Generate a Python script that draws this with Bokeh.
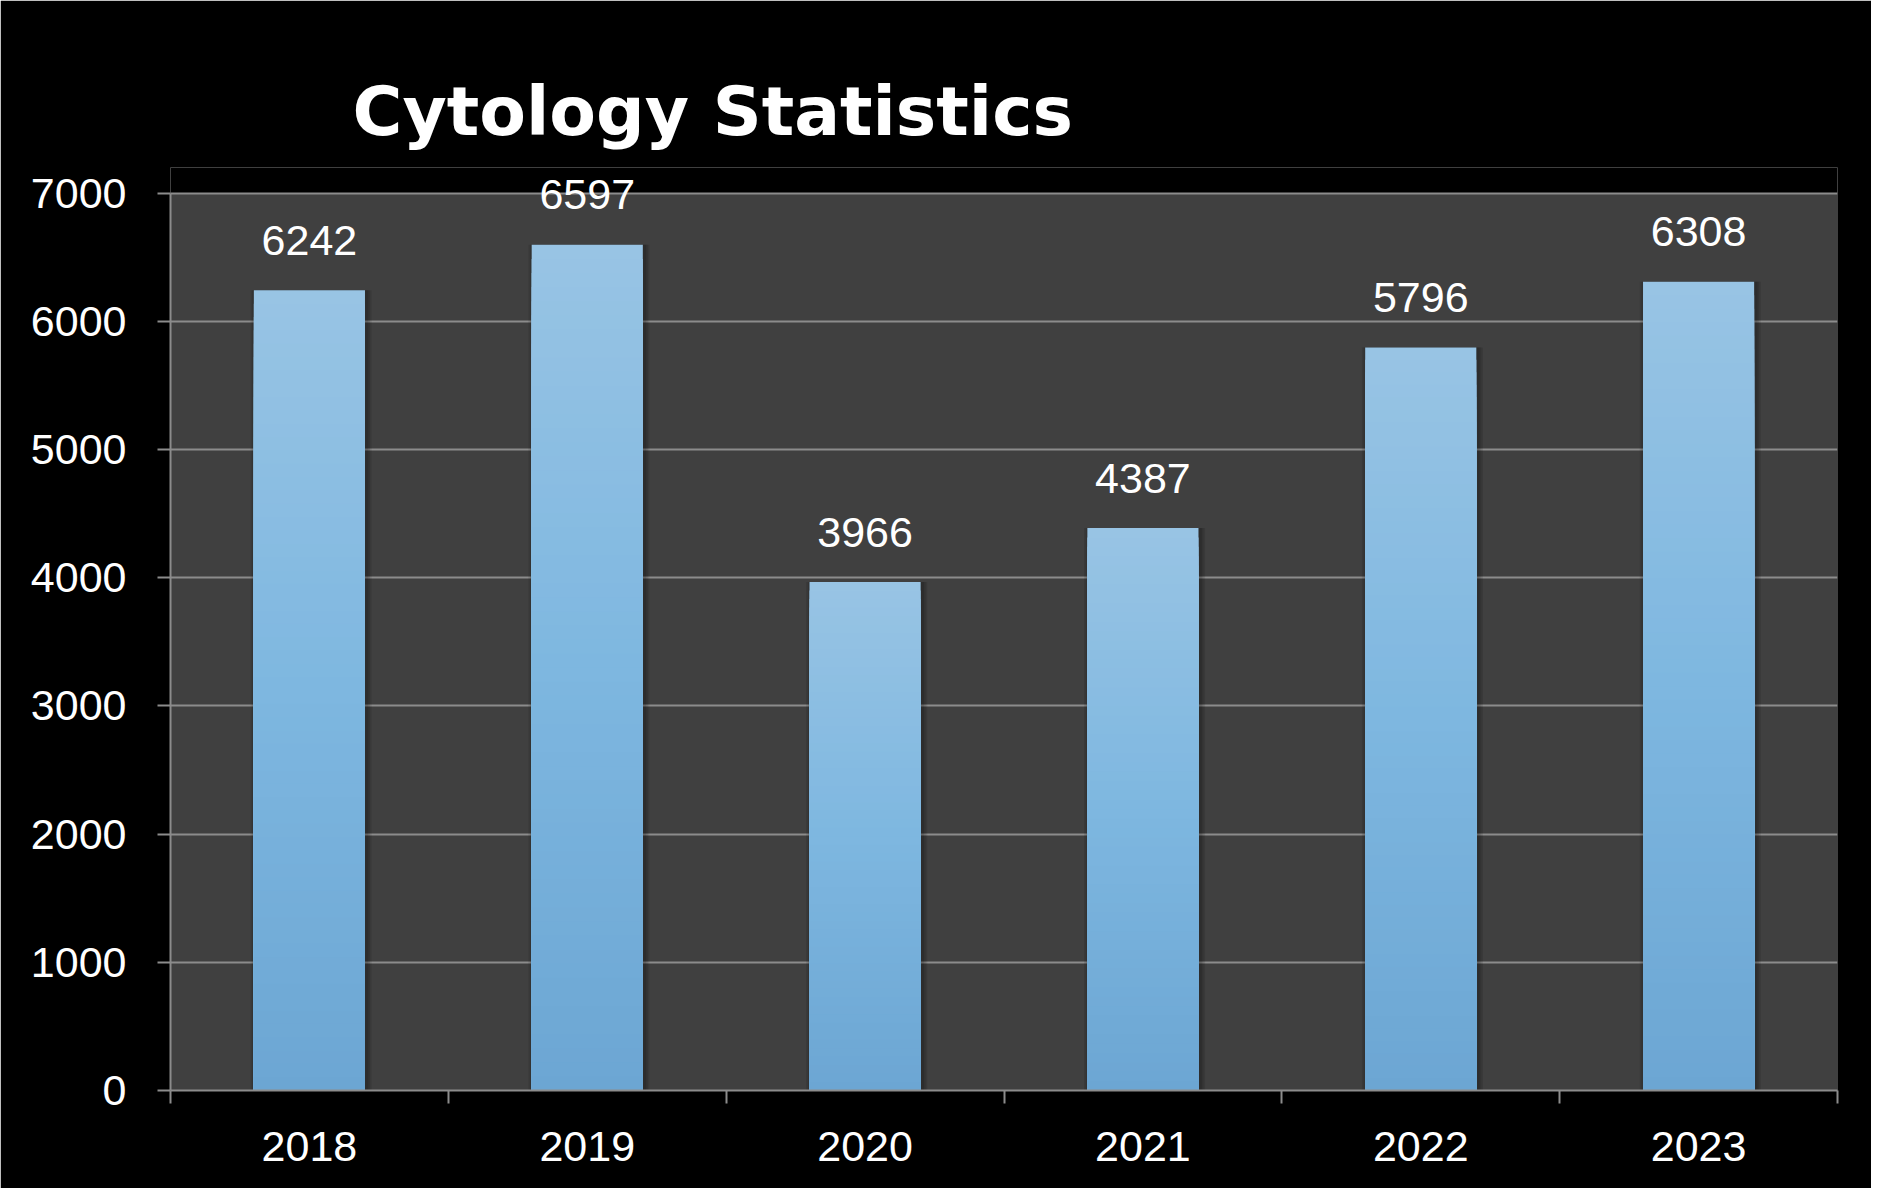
from bokeh.plotting import figure
from bokeh.models import FixedTicker, Range1d
from bokeh.core.properties import value
from bokeh.embed import file_html
from bokeh.resources import INLINE

# ---- data ----
years = ["2018", "2019", "2020", "2021", "2022", "2023"]
counts = [6242, 6597, 3966, 4387, 5796, 6308]
y_ticks = [0, 1000, 2000, 3000, 4000, 5000, 6000, 7000]

# ---- style ----
FONT = "Liberation Sans"
GRID = "#8c8c8c"
BAR_W = 0.40
TOP_PAD = 200          # room above the plot area so the top label is not clipped
grad_stops = [(0.0, (108, 166, 211)), (0.5, (126, 183, 224)), (1.0, (152, 196, 228))]
N_SLICES = 60


def grad_color(t):
    for (t0, c0), (t1, c1) in zip(grad_stops[:-1], grad_stops[1:]):
        if t <= t1:
            f = (t - t0) / (t1 - t0)
            r, g, b = (round(a + (b_ - a) * f) for a, b_ in zip(c0, c1))
            return "#%02x%02x%02x" % (r, g, b)
    r, g, b = grad_stops[-1][1]
    return "#%02x%02x%02x" % (r, g, b)


xs = [i + 0.5 for i in range(len(years))]
y_top = y_ticks[-1]

p = figure(
    frame_width=1667, frame_height=923,
    x_range=Range1d(0, len(years)), y_range=Range1d(y_ticks[0], y_top + TOP_PAD),
    output_backend="svg", toolbar_location=None,
    min_border_left=170, min_border_right=34, min_border_top=167, min_border_bottom=98,
    title="Cytology Statistics",
)
p.background_fill_color = "#000000"
p.border_fill_color = "#000000"
p.outline_line_color = None

# dark plot area, drawn beneath the grid
area = p.quad(left=0, right=len(years), bottom=y_ticks[0], top=y_top,
              fill_color="#404040", line_color=None)
area.level = "image"

p.title.text_font = "DejaVu Sans"
p.title.text_font_style = "bold"
p.title.text_font_size = "68px"
p.title.text_color = "white"
p.title.align = "left"
p.title.offset = 182
p.title.standoff = 33

# grid
p.xgrid.grid_line_color = None
p.ygrid.ticker = FixedTicker(ticks=y_ticks)
p.ygrid.grid_line_color = GRID
p.ygrid.grid_line_width = 2

# x axis
p.xaxis.ticker = FixedTicker(ticks=xs, minor_ticks=list(range(len(years) + 1)))
p.xaxis.major_label_overrides = {x: y for x, y in zip(xs, years)}
p.xaxis.major_tick_line_color = None
p.xaxis.major_tick_out = 0
p.xaxis.major_tick_in = 0
p.xaxis.minor_tick_in = 0
p.xaxis.minor_tick_out = 13
p.xaxis.minor_tick_line_color = GRID
p.xaxis.minor_tick_line_width = 2
p.xaxis.major_label_standoff = 28

# y axis
p.yaxis.ticker = FixedTicker(ticks=y_ticks)
p.yaxis.bounds = (y_ticks[0], y_top)
p.yaxis.major_tick_in = 0
p.yaxis.major_tick_out = 13
p.yaxis.major_tick_line_color = GRID
p.yaxis.major_tick_line_width = 2
p.yaxis.minor_tick_line_color = None
p.yaxis.major_label_standoff = 31

for ax in (p.xaxis, p.yaxis):
    ax.axis_line_color = GRID
    ax.axis_line_width = 2
    ax.major_label_text_font = FONT
    ax.major_label_text_font_size = "43px"
    ax.major_label_text_color = "white"

# bar shadows
for j, a in enumerate([0.10, 0.10, 0.10]):
    p.vbar(x=[x + 0.006 for x in xs], width=BAR_W + 0.012 * (j + 1), bottom=0, top=counts,
           fill_color="black", fill_alpha=a, line_color=None)

# gradient bars: overlapping stacks from top colour down to bottom colour
for k in range(N_SLICES - 1, -1, -1):
    col = grad_color((k + 0.5) / N_SLICES)
    p.vbar(x=xs, width=BAR_W, bottom=0, top=[c * (k + 1) / N_SLICES for c in counts],
           fill_color=col, line_color=None)

# data labels
p.text(x=xs, y=counts, text=[str(c) for c in counts], text_align="center",
       text_baseline="alphabetic", y_offset=-50, text_font=value(FONT),
       text_font_size="43px", text_color="white")

html = file_html(p, INLINE)
html = html.replace("<body>", '<body style="background-color:#000000;">', 1)
open("out.html", "w").write(html)
